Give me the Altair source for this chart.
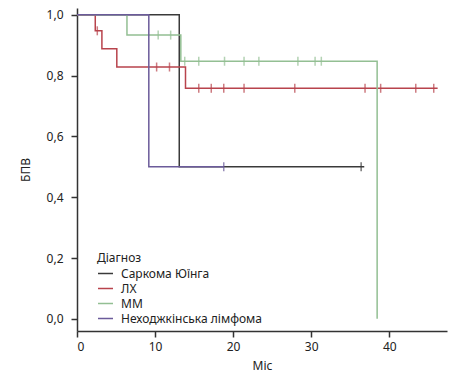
import altair as alt
import pandas as pd

groups = ["Саркома Юїнга", "ЛХ", "ММ", "Неходжкінська лімфома"]
colors = ["#3a3a3a", "#b8434c", "#93bf93", "#6b5b9a"]

# step curves (time, survival)
ewing_t = [0, 13.1, 36.8]
ewing_s = [1.0, 0.5, 0.5]
lh_t = [0, 2.34, 3.19, 5.1, 13.9, 46.2]
lh_s = [1.0, 0.947, 0.888, 0.828, 0.758, 0.758]
mm_t = [0, 6.4, 13.3, 38.45]
mm_s = [1.0, 0.933, 0.847, 0.0]
nhl_t = [0, 9.2, 18.8]
nhl_s = [1.0, 0.5, 0.5]

# censored observations
ewing_ct = [36.4]
ewing_cs = [0.5]
lh_ct = [2.6, 10.2, 11.85, 15.6, 17.2, 18.8, 21.4, 27.9, 36.9, 38.9, 43.4, 45.7]
lh_cs = [0.947, 0.828, 0.828, 0.758, 0.758, 0.758, 0.758, 0.758, 0.758, 0.758, 0.758, 0.758]
mm_ct = [10.4, 12.0, 13.8, 15.6, 18.9, 21.4, 23.3, 28.3, 30.5, 31.3]
mm_cs = [0.933, 0.933, 0.847, 0.847, 0.847, 0.847, 0.847, 0.847, 0.847, 0.847]
nhl_ct = [18.8]
nhl_cs = [0.5]

x_ticks = [0, 10, 20, 30, 40]
y_ticks = [0.0, 0.2, 0.4, 0.6, 0.8, 1.0]

curves = []
cens = []
for i, (g, t, s, ct, cs) in enumerate([
    (groups[0], ewing_t, ewing_s, ewing_ct, ewing_cs),
    (groups[1], lh_t, lh_s, lh_ct, lh_cs),
    (groups[2], mm_t, mm_s, mm_ct, mm_cs),
    (groups[3], nhl_t, nhl_s, nhl_ct, nhl_cs),
]):
    for k, (a, b) in enumerate(zip(t, s)):
        curves.append({"g": g, "o": i, "k": k, "t": a, "s": b})
    for a, b in zip(ct, cs):
        cens.append({"g": g, "o": i, "t": a, "s": b})

df = pd.DataFrame(curves)
dc = pd.DataFrame(cens)

FONT = "Noto Sans"

xs = alt.Scale(domain=[0, 47.4], nice=False, zero=False)
ys = alt.Scale(domain=[-0.04, 1.022], nice=False, zero=False)
color = alt.Color(
    "g:N",
    scale=alt.Scale(domain=groups, range=colors),
    sort=groups,
    legend=alt.Legend(
        title="Діагноз",
        orient="none",
        legendX=20,
        legendY=245,
        symbolType="stroke",
        symbolSize=225,
        symbolStrokeWidth=1.5,
        rowPadding=0,
        labelFont=FONT,
        labelFontSize=12,
        labelColor="#222",
        titleFont=FONT,
        titleFontSize=12,
        titleFontWeight="normal",
        titleColor="#222",
        labelOffset=7,
        titlePadding=0,
    ),
)

lines = alt.Chart(df).mark_line(interpolate="step-after", strokeWidth=1.5).encode(
    x=alt.X("t:Q", scale=xs, axis=alt.Axis(
        title="Міс", values=x_ticks, grid=False, tickSize=6,
        labelPadding=4, titlePadding=8, format="d")),
    y=alt.Y("s:Q", scale=ys, axis=alt.Axis(
        title="БПВ", values=y_ticks, grid=False, tickSize=6, labelPadding=8,
        titlePadding=14,
        labelExpr="replace(format(datum.value, '.1f'), '.', ',')")),
    color=color,
    order="k:Q",
    detail="o:N",
)

ticks = alt.Chart(dc).mark_tick(orient="vertical", size=9, thickness=1.5).encode(
    x=alt.X("t:Q", scale=xs),
    y=alt.Y("s:Q", scale=ys),
    color=alt.Color("g:N", scale=alt.Scale(domain=groups, range=colors), legend=None),
)

chart = alt.layer(lines, ticks).properties(
    width=370,
    height=323,
    autosize=alt.AutoSizeParams(type="none"),
    padding={"left": 69, "top": 0, "right": 4, "bottom": 41},
).configure_view(stroke=None).configure_axis(
    domainColor="#333",
    tickColor="#333",
    domainWidth=1.5,
    tickWidth=1.5,
    labelFont=FONT,
    labelFontSize=12,
    labelColor="#222",
    titleFont=FONT,
    titleFontSize=12,
    titleFontWeight="normal",
    titleColor="#222",
)

chart.save("out.html", embed_options={"renderer": "svg", "actions": False})
